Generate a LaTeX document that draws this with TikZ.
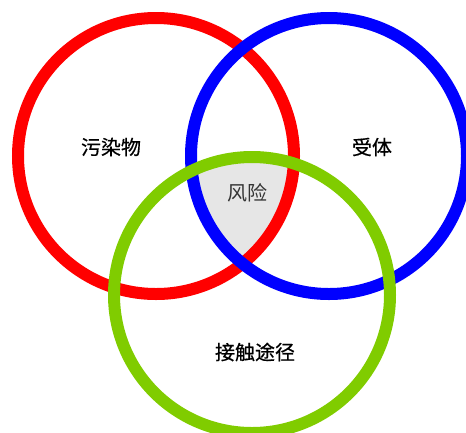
\documentclass[tikz,border=0pt]{standalone}
\usepackage{fontspec}
\newfontfamily\cjk{Noto Sans CJK SC}[FakeBold=0.6]
\newfontfamily\cjklight{Noto Sans CJK SC}
\usetikzlibrary{positioning}
\definecolor{ringgreen}{RGB}{128,204,0}
\definecolor{riskgray}{RGB}{230,230,230}

\begin{document}
\begin{tikzpicture}[x=1pt,y=1pt,
    ring/.style={line width=12pt},
    lbl/.style={font=\cjk\fontsize{20}{20}\selectfont}]
    \useasboundingbox (0,0) rectangle (466,-432);
    \coordinate (pollutant) at (156,-156);
    \coordinate (receptor) at (329,-156);
    \coordinate (pathway) at (252,-295);
    % shared part of the three rings
    \begin{scope}
      \clip (pollutant) circle (138pt);
      \clip (receptor) circle (138pt);
      \fill[riskgray] (pathway) circle (138pt);
    \end{scope}
    \draw[ring, red] (pollutant) circle (138pt);
    \draw[ring, blue] (receptor) circle (138pt);
    \draw[ring, ringgreen] (pathway) circle (138pt);
    \node[lbl] (lpollutant) at (111,-147) {污染物};
    \node[lbl] (lreceptor) at (372,-147) {受体};
    \node[font=\cjklight\fontsize{20}{20}\selectfont, text=black!80] (lrisk) at (247,-193) {风险};
    \node[lbl] (lpathway) at (255,-352) {接触途径};
\end{tikzpicture}
\end{document}
